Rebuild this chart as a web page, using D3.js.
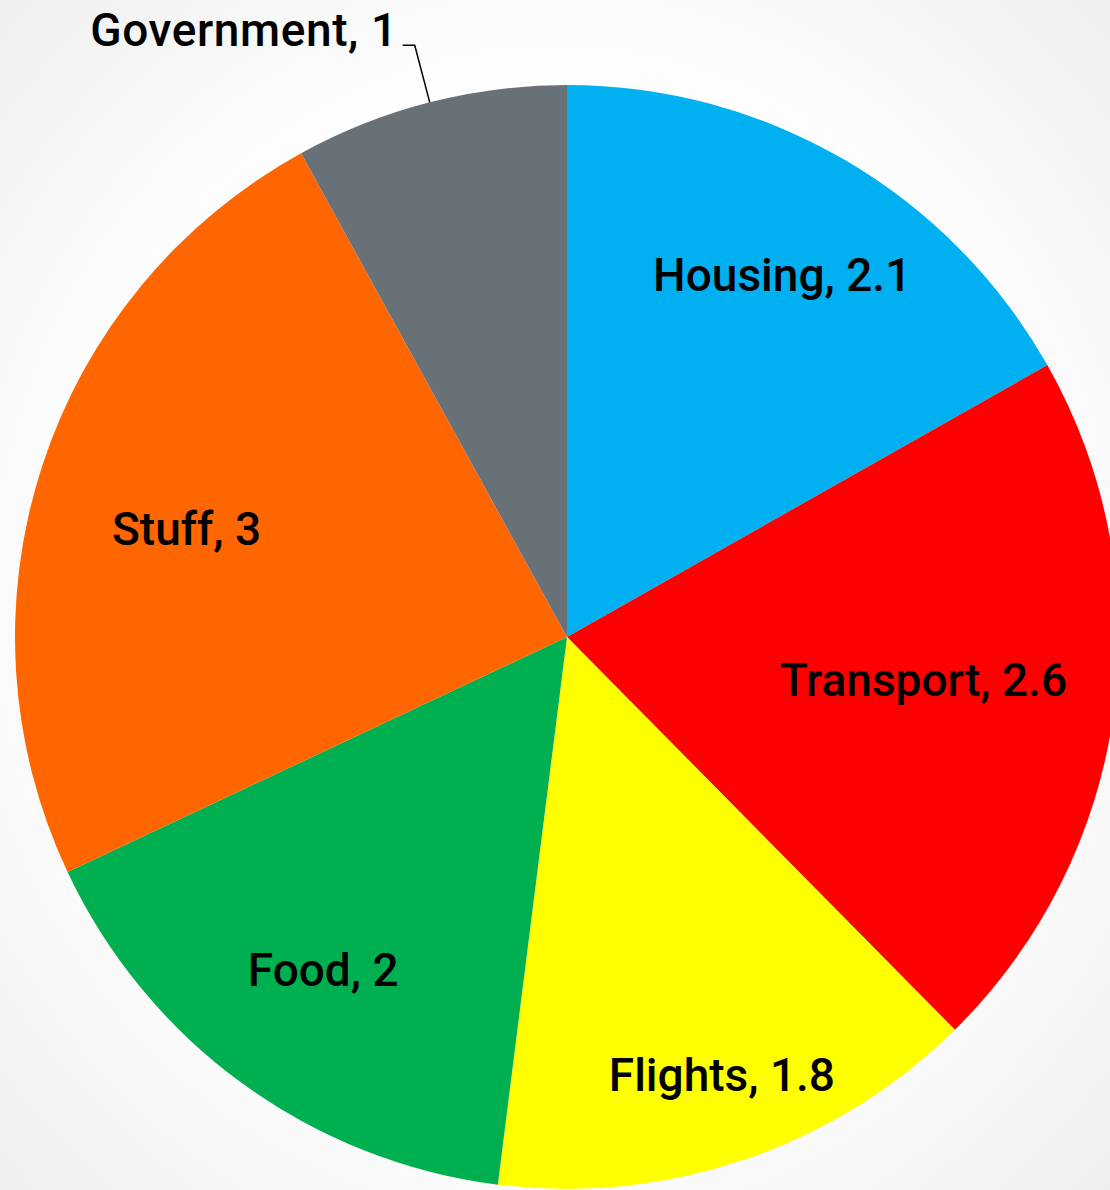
<!DOCTYPE html>
<html>
<head>
<meta charset="utf-8">
<script src="https://cdn.jsdelivr.net/npm/d3@7"></script>
<style>
  html, body { margin: 0; padding: 0; }
  body { width: 1110px; height: 1190px; overflow: hidden; }
  text { font-family: Roboto, "Noto Sans", sans-serif; font-weight: 500; }
</style>
</head>
<body>
<div id="chart"></div>
<script>
// footprint by category, tonnes
var categories = ["Housing", "Transport", "Flights", "Food", "Stuff", "Government"];
var values = [2.1, 2.6, 1.8, 2, 3, 1];
var colors = ["#00B0F0", "#FF0000", "#FFFF00", "#00B050", "#FF6600", "#687078"];

// label placement: distance from centre as share of radius (null = callout outside),
// and a small turn off the slice's mid angle, in degrees
var labelRadius = [0.765, 0.65, 0.84, 0.746, 0.717, null];
var labelTurn = [0.4, -1.2, -0.8, 0.3, -2, 0];

var width = 1110, height = 1190;
var cx = 567, cy = 637, radius = 552;

var svg = d3.select("#chart")
    .append("svg")
    .attr("width", width)
    .attr("height", height);

var grad = svg.append("defs").append("radialGradient")
    .attr("id", "bg")
    .attr("cx", "50%").attr("cy", "50%").attr("r", "75%");
grad.append("stop").attr("offset", "0%").attr("stop-color", "#ffffff");
grad.append("stop").attr("offset", "55%").attr("stop-color", "#ffffff");
grad.append("stop").attr("offset", "100%").attr("stop-color", "#ececec");

svg.append("rect")
    .attr("width", width)
    .attr("height", height)
    .attr("fill", "url(#bg)");

var data = categories.map((c, i) => ({
    name: c, value: values[i], color: colors[i], lr: labelRadius[i], turn: labelTurn[i]
}));

var pie = d3.pie()
    .value(d => d.value)
    .sort(null);

var arc = d3.arc()
    .innerRadius(0)
    .outerRadius(radius);

var g = svg.append("g")
    .attr("transform", "translate(" + cx + "," + cy + ")");

var arcs = pie(data);

g.selectAll("path")
    .data(arcs)
    .enter()
    .append("path")
    .attr("d", arc)
    .attr("fill", d => d.data.color);

function polar(a, r) {
    return [Math.sin(a) * r, -Math.cos(a) * r];
}

function labelPos(d) {
    var a = (d.startAngle + d.endAngle) / 2 + d.data.turn * Math.PI / 180;
    return polar(a, d.data.lr * radius);
}

var fontSize = 46;

// inside labels
g.selectAll("text.inside")
    .data(arcs.filter(d => d.data.lr != null))
    .enter()
    .append("text")
    .attr("class", "inside")
    .attr("x", d => labelPos(d)[0])
    .attr("y", d => labelPos(d)[1])
    .attr("dy", "0.37em")
    .attr("text-anchor", "middle")
    .attr("font-size", fontSize)
    .attr("fill", "#000")
    .text(d => d.data.name + ", " + d.data.value);

// callout label for the small slice
arcs.filter(d => d.data.lr == null).forEach(function(d) {
    var p0 = polar((d.startAngle + d.endAngle) / 2, radius);
    var p1 = [p0[0] - 15, p0[1] - 57];
    var p2 = [p1[0] - 12, p1[1]];
    g.append("polyline")
        .attr("points", [p0, p1, p2].map(p => p.join(",")).join(" "))
        .attr("fill", "none")
        .attr("stroke", "#000")
        .attr("stroke-width", 1.5);
    g.append("text")
        .attr("x", p2[0] - 5)
        .attr("y", p2[1] + 1)
        .attr("text-anchor", "end")
        .attr("font-size", fontSize)
        .attr("letter-spacing", 0.6)
        .attr("fill", "#000")
        .text(d.data.name + ", " + d.data.value);
});
</script>
</body>
</html>
